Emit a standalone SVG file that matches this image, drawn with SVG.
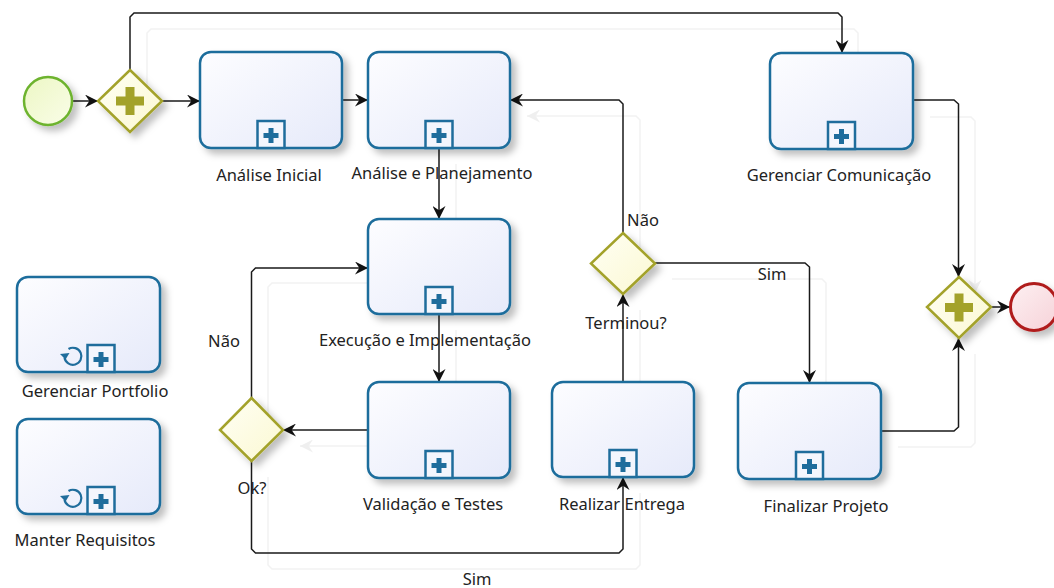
<svg xmlns="http://www.w3.org/2000/svg" width="1054" height="588" viewBox="0 0 1054 588">
<defs>
<linearGradient id="gTask" x1="0" y1="0" x2="1" y2="1"><stop offset="0" stop-color="#fdfdff"/><stop offset="1" stop-color="#e6eafa"/></linearGradient>
<linearGradient id="gGw" x1="0" y1="0" x2="1" y2="1"><stop offset="0" stop-color="#fffff4"/><stop offset="1" stop-color="#fbf8d2"/></linearGradient>
<linearGradient id="gStart" x1="0" y1="0" x2="1" y2="1"><stop offset="0" stop-color="#ecf7c4"/><stop offset="1" stop-color="#fafde8"/></linearGradient>
<linearGradient id="gEnd" x1="0" y1="0" x2="1" y2="1"><stop offset="0" stop-color="#fdf0f2"/><stop offset="1" stop-color="#f6d2d8"/></linearGradient>
<filter id="sh" x="-20%" y="-20%" width="150%" height="150%"><feDropShadow dx="5" dy="5" stdDeviation="3.5" flood-color="#000" flood-opacity="0.25"/></filter>
<marker id="arr" viewBox="0 0 12 12" refX="12" refY="6" markerWidth="13" markerHeight="13" markerUnits="userSpaceOnUse" orient="auto"><path d="M0,0 L12,6 L0,12 L4,6 z" fill="#111"/></marker>
<marker id="garr" viewBox="0 0 12 12" refX="12" refY="6" markerWidth="13" markerHeight="13" markerUnits="userSpaceOnUse" orient="auto"><path d="M0,0 L12,6 L0,12 L4,6 z" fill="#efefef"/></marker>
<g id="subm"><rect x="-13.5" y="-27" width="27" height="27" fill="#f4f6fd" stroke="#1f6d9c" stroke-width="2.5"/><path d="M-2.5,-20 h5 v5 h5 v5 h-5 v5 h-5 v-5 h-5 v-5 h5 z" fill="#1f6d9c"/></g>
<g id="loopm"><path d="M-4.5,-9 A8.5,8.5 0 1 1 -8.5,-0.5" fill="none" stroke="#1f6d9c" stroke-width="2.2"/><path d="M-13,-4 L-7.5,1.5 L-3.5,-5 z" fill="#1f6d9c"/></g>
<g id="plus"><path d="M-4.5,-14 h9 v9.5 h9.5 v9 h-9.5 v9.5 h-9 v-9.5 h-9.5 v-9 h9.5 z" fill="#a3a22a"/></g>
</defs>
<style>
.task{fill:url(#gTask);stroke:#1f6d9c;stroke-width:2.5}
.gw{fill:url(#gGw);stroke:#a3a22a;stroke-width:2.5}
.lbl{font-family:"Noto Sans","Open Sans",sans-serif;font-size:16.5px;fill:#222;text-anchor:middle}
.con{fill:none;stroke:#1a1a1a;stroke-width:1.5;marker-end:url(#arr)}
.ghost{fill:none;stroke:#f2f2f2;stroke-width:1.5}
</style>
<rect width="1054" height="588" fill="#fff"/>

<g id="ghosts">
<path class="ghost" d="M147,86 V33 L151,29 H854 L858,33 V69"/>
<path class="ghost" d="M930,117 H971 L975,121 V293" marker-end="url(#garr)"/>
<path class="ghost" d="M898,447 H971 L975,443 V354"/>
<path class="ghost" d="M640,249 V120 L636,116 H527" marker-end="url(#garr)"/>
<path class="ghost" d="M672,279 H822 L826,283 V399"/>
<path class="ghost" d="M268,414 V287 L272,283 H385"/>
<path class="ghost" d="M268,477 V565 L272,569 H636 L640,565 V493"/>
<path class="ghost" d="M385,446 H300" marker-end="url(#garr)"/>
<path class="ghost" d="M456,330 V398"/>
<path class="ghost" d="M456,164 V235"/>
<path class="ghost" d="M640,398 V310"/>
</g>

<g id="connectors">
<path class="con" d="M72,101 H98"/>
<path class="con" d="M162,101 H200"/>
<path class="con" d="M130,70 V17 L134,13 H838 L842,17 V53"/>
<path class="con" d="M342,100 H368"/>
<path class="con" d="M439,148 V219"/>
<path class="con" d="M439,314 V382"/>
<path class="con" d="M368,430 H283"/>
<path class="con" d="M251.5,398 V272 L255.5,268 H368"/>
<path class="con" d="M251.5,461 V549 L255.5,553 H619 L623,549 V477"/>
<path class="con" d="M623,382 V294"/>
<path class="con" d="M623,233 V104 L619,100 H510"/>
<path class="con" d="M655,263 H805 L809.5,267 V383"/>
<path class="con" d="M913,100 H954 L958.5,104 V277"/>
<path class="con" d="M881,431 H954 L958.5,427 V338"/>
<path class="con" d="M991,307 H1010"/>
<text class="lbl" x="224" y="347">Não</text>
<text class="lbl" x="477" y="585">Sim</text>
<text class="lbl" x="643" y="226">Não</text>
<text class="lbl" x="772" y="280">Sim</text>
</g>

<g id="start"><circle cx="48" cy="101" r="24" fill="url(#gStart)" stroke="#6db32e" stroke-width="2.5" filter="url(#sh)"/></g>

<g id="gw-split"><polygon class="gw" points="130,70 162,101 130,132 98,101" filter="url(#sh)"/><use href="#plus" x="130" y="101"/></g>

<g id="analise-inicial"><rect class="task" x="200" y="52" width="142" height="96" rx="11" filter="url(#sh)"/><use href="#subm" x="271" y="148"/><text class="lbl" x="269" y="181">Análise Inicial</text></g>

<g id="analise-planejamento"><rect class="task" x="368" y="52" width="142" height="96" rx="11" filter="url(#sh)"/><use href="#subm" x="439" y="148"/><text class="lbl" x="442" y="179">Análise e Planejamento</text></g>

<g id="gerenciar-comunicacao"><rect class="task" x="770" y="53" width="143" height="96" rx="11" filter="url(#sh)"/><use href="#subm" x="841.5" y="149"/><text class="lbl" x="839" y="181">Gerenciar Comunicação</text></g>

<g id="execucao"><rect class="task" x="368" y="219" width="142" height="95" rx="11" filter="url(#sh)"/><use href="#subm" x="439" y="314"/><text class="lbl" x="425" y="346">Execução e Implementação</text></g>

<g id="gw-terminou"><polygon class="gw" points="623,233 655,263.5 623,294 591,263.5" filter="url(#sh)"/><text class="lbl" x="626" y="329">Terminou?</text></g>

<g id="gw-ok"><polygon class="gw" points="251.5,398 283,430 251.5,461 220,430" filter="url(#sh)"/><text class="lbl" x="252" y="494">Ok?</text></g>

<g id="validacao"><rect class="task" x="368" y="382" width="142" height="96" rx="11" filter="url(#sh)"/><use href="#subm" x="439" y="478"/><text class="lbl" x="433" y="510">Validação e Testes</text></g>

<g id="realizar-entrega"><rect class="task" x="552" y="382" width="142" height="95" rx="11" filter="url(#sh)"/><use href="#subm" x="623" y="477"/><text class="lbl" x="622" y="510">Realizar Entrega</text></g>

<g id="finalizar"><rect class="task" x="738" y="383" width="143" height="96" rx="11" filter="url(#sh)"/><use href="#subm" x="809.5" y="479"/><text class="lbl" x="826" y="512">Finalizar Projeto</text></g>

<g id="gw-join"><polygon class="gw" points="959,277 991,307 959,338 927,307" filter="url(#sh)"/><use href="#plus" x="959" y="307.5"/></g>

<g id="end"><circle cx="1034" cy="307" r="23.5" fill="url(#gEnd)" stroke="#b01c1c" stroke-width="3" filter="url(#sh)"/></g>

<g id="gerenciar-portfolio"><rect class="task" x="17" y="277" width="143" height="95" rx="11" filter="url(#sh)"/><use href="#loopm" x="73" y="358"/><use href="#subm" x="101" y="372"/><text class="lbl" x="95" y="397">Gerenciar Portfolio</text></g>

<g id="manter-requisitos"><rect class="task" x="17" y="419" width="143" height="95" rx="11" filter="url(#sh)"/><use href="#loopm" x="73" y="500"/><use href="#subm" x="101" y="514"/><text class="lbl" x="85" y="546">Manter Requisitos</text></g>
</svg>
